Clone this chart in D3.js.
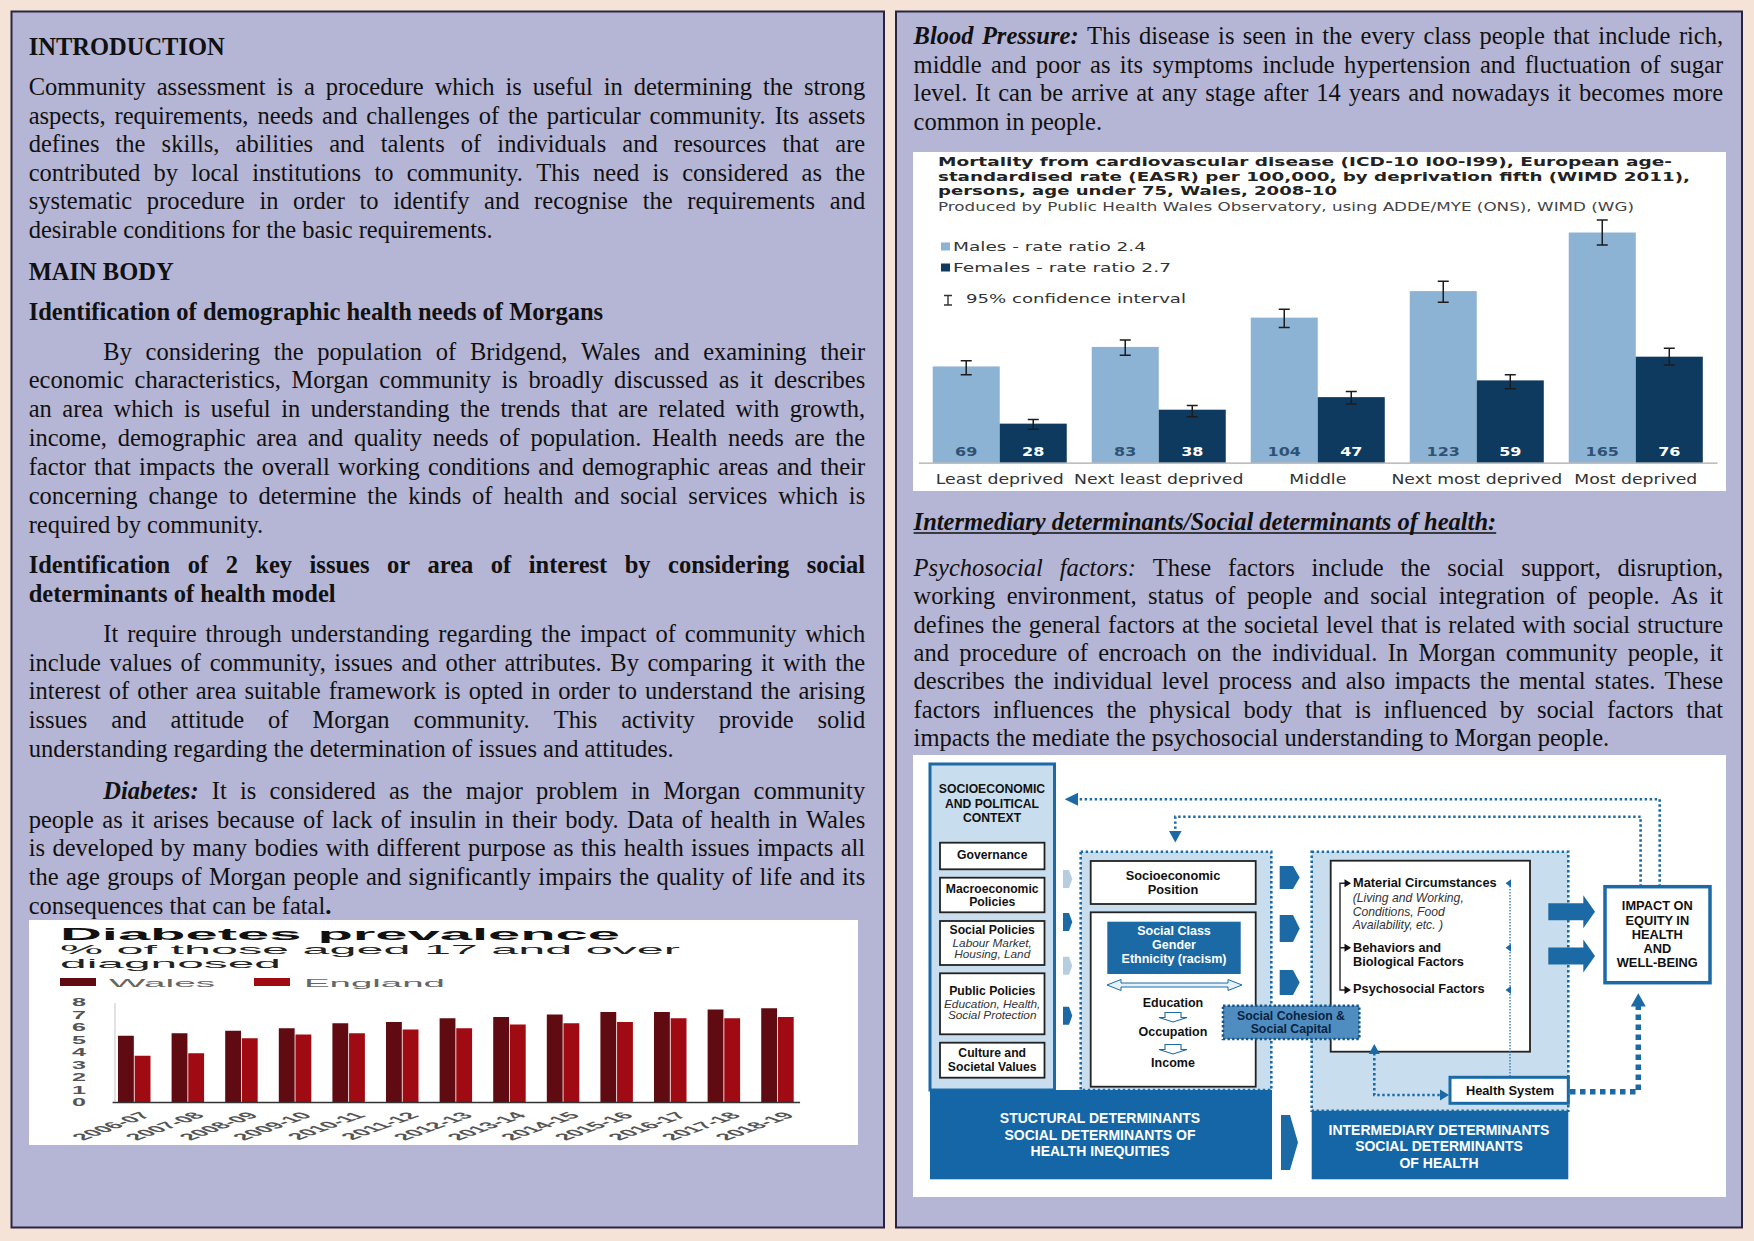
<!DOCTYPE html>
<html>
<head>
<meta charset="utf-8">
<script src="https://cdn.jsdelivr.net/npm/d3@7"></script>
<style>
  body { margin: 0; background: #f6e3d7; }
  svg { display: block; }
</style>
</head>
<body>
<script>
// page size
var W = 1754, H = 1241;

// ---- diabetes chart data ----
var years = ["2006-07", "2007-08", "2008-09", "2009-10", "2010-11", "2011-12", "2012-13",
             "2013-14", "2014-15", "2015-16", "2016-17", "2017-18", "2018-19"];
var walesPct   = [5.3, 5.5, 5.7, 5.9, 6.3, 6.4, 6.7, 6.8, 7.0, 7.2, 7.2, 7.4, 7.5];
var englandPct = [3.7, 3.9, 5.1, 5.4, 5.5, 5.8, 5.9, 6.2, 6.3, 6.4, 6.7, 6.7, 6.8];
var diabetesTicks = [0, 1, 2, 3, 4, 5, 6, 7, 8];
var diabetesSeries = ["Wales", "England"];

// ---- cardiovascular mortality data ----
var fifths = ["Least deprived", "Next least deprived", "Middle", "Next most deprived", "Most deprived"];
var maleRate   = [69, 83, 104, 123, 165];
var femaleRate = [28, 38, 47, 59, 76];
var maleLo   = [63, 77, 97, 115, 156];
var maleHi   = [73, 88, 110, 130, 174];
var femaleLo = [24, 33, 42, 53, 70];
var femaleHi = [31, 41, 51, 63, 82];
var sexes = ["Males", "Females"];

// ---- body text, one entry per printed line: [text or segments, justify, indent] ----
var introLines = [
  ["Community assessment is a procedure which is useful in determining the strong", 1],
  ["aspects, requirements, needs and challenges of the particular community. Its assets", 1],
  ["defines the skills, abilities and talents of individuals and resources that are", 1],
  ["contributed by local institutions to community. This need is considered as the", 1],
  ["systematic procedure in order to identify and recognise the requirements and", 1],
  ["desirable conditions for the basic requirements.", 0]
];
var demoLines = [
  ["By considering the population of Bridgend, Wales and examining their", 1, 1],
  ["economic characteristics, Morgan community is broadly discussed as it describes", 1],
  ["an area which is useful in understanding the trends that are related with growth,", 1],
  ["income, demographic area and quality needs of population. Health needs are the", 1],
  ["factor that impacts the overall working conditions and demographic areas and their", 1],
  ["concerning change to determine the kinds of health and social services which is", 1],
  ["required by community.", 0]
];
var keyHeadLines = [
  [[["b", "Identification of 2 key issues or area of interest by considering social"]], 1],
  [[["b", "determinants of health model"]], 0]
];
var keyLines = [
  ["It require through understanding regarding the impact of community which", 1, 1],
  ["include values of community, issues and other attributes. By comparing it with the", 1],
  ["interest of other area suitable framework is opted in order to understand the arising", 1],
  ["issues and attitude of Morgan community. This activity provide solid", 1],
  ["understanding regarding the determination of issues and attitudes.", 0]
];
var diabetesLines = [
  [[["bi", "Diabetes:"], ["", " It is considered as the major problem in Morgan community"]], 1, 1],
  ["people as it arises because of lack of insulin in their body. Data of health in Wales", 1],
  ["is developed by many bodies with different purpose as this health issues impacts all", 1],
  ["the age groups of Morgan people and significantly impairs the quality of life and its", 1],
  [[["", "consequences that can be fatal"], ["b", "."]], 0]
];
var bpLines = [
  [[["bi", "Blood Pressure:"], ["", " This disease is seen in the every class people that include rich,"]], 1],
  ["middle  and poor as its symptoms include hypertension and fluctuation of sugar", 1],
  ["level. It can be arrive at any stage after 14 years and nowadays it becomes more", 1],
  ["common in people.", 0]
];
var psychoLines = [
  [[["i", "Psychosocial factors:"], ["", " These factors include the social support, disruption,"]], 1],
  ["working environment, status of people and social integration of people. As it", 1],
  ["defines the general factors at the societal level that is related with social structure", 1],
  ["and procedure of encroach on the individual. In Morgan community people, it", 1],
  ["describes the individual level process and also impacts the mental states. These", 1],
  ["factors influences the physical body that is influenced by social factors that", 1],
  ["impacts the mediate the psychosocial understanding to Morgan people.", 0]
];

// ---- diagram texts ----
var contextTitle = ["SOCIOECONOMIC", "AND POLITICAL", "CONTEXT"];
var structuralTitle = ["STUCTURAL DETERMINANTS", "SOCIAL DETERMINANTS OF", "HEALTH INEQUITIES"];
var intermediaryTitle = ["INTERMEDIARY DETERMINANTS", "SOCIAL DETERMINANTS", "OF HEALTH"];
var impactTitle = ["IMPACT ON", "EQUITY IN", "HEALTH", "AND", "WELL-BEING"];

// create svg canvas
var svg = d3.select("body").append("svg")
    .attr("width", W)
    .attr("height", H);

svg.append("rect").attr("width", W).attr("height", H).attr("fill", "#f6e3d7");

// the two lavender panels
svg.append("rect")
    .attr("x", 11.5).attr("y", 11.5).attr("width", 872.5).attr("height", 1216)
    .attr("fill", "#b5b5d6").attr("stroke", "#2a2442").attr("stroke-width", 2);
svg.append("rect")
    .attr("x", 896).attr("y", 11.5).attr("width", 846).attr("height", 1216)
    .attr("fill", "#b5b5d6").attr("stroke", "#2a2442").attr("stroke-width", 2);

// ---------- body text ----------
var textG = svg.append("g")
    .attr("font-family", "'Liberation Serif', 'Times New Roman', serif")
    .attr("font-size", 24.5)
    .attr("fill", "#111");

function segStyle(k) {
  var s = "";
  if (k.indexOf("b") >= 0) s += "font-weight:bold;";
  if (k.indexOf("i") >= 0) s += "font-style:italic;";
  return s;
}

// one printed line, justified by placing each word
function textLine(segs, x, y, width, justify) {
  var t = textG.append("text").attr("y", y);
  if (!justify) {
    t.attr("x", x);
    segs.forEach(function(s) {
      t.append("tspan").attr("style", segStyle(s[0])).text(s[1]);
    });
    return t;
  }
  var words = [];
  segs.forEach(function(s) {
    s[1].split(/\s+/).filter(Boolean).forEach(function(w) { words.push([s[0], w]); });
  });
  var spans = words.map(function(w) {
    return t.append("tspan").attr("style", segStyle(w[0])).text(w[1]);
  });
  var widths = spans.map(function(sp) { return sp.node().getComputedTextLength(); });
  var gap = (width - d3.sum(widths)) / (words.length - 1);
  var cx = x;
  spans.forEach(function(sp, i) { sp.attr("x", cx); cx += widths[i] + gap; });
  return t;
}

function drawBlock(lines, x, width, y0, pitch) {
  var indent = 74.6;
  lines.forEach(function(ln, i) {
    var segs = typeof ln[0] === "string" ? [["", ln[0]]] : ln[0];
    var ind = ln[2] ? indent : 0;
    textLine(segs, x + ind, y0 + i * pitch, width - ind, ln[1]);
  });
}

var LX = 28.7, LW = 836.5, RX = 913.6, RW = 809.5, PITCH = 28.6;

textLine([["b", "INTRODUCTION"]], LX, 55, LW, 0);
drawBlock(introLines, LX, LW, 95, PITCH);
textLine([["b", "MAIN BODY"]], LX, 279.5, LW, 0);
textLine([["b", "Identification of demographic health needs of Morgans"]], LX, 320, LW, 0);
drawBlock(demoLines, LX, LW, 359.5, 28.85);
drawBlock(keyHeadLines, LX, LW, 573, 28.7);
drawBlock(keyLines, LX, LW, 642, 28.7);
drawBlock(diabetesLines, LX, LW, 799, 28.7);

drawBlock(bpLines, RX, RW, 44, 28.5);
var ul = textLine([["bi", "Intermediary determinants/Social determinants of health:"]], RX, 529.5, RW, 0);
textG.append("line")
    .attr("x1", RX).attr("x2", RX + ul.node().getComputedTextLength())
    .attr("y1", 533).attr("y2", 533)
    .attr("stroke", "#111").attr("stroke-width", 1.4);
drawBlock(psychoLines, RX, RW, 576, 28.3);

// ---------- diabetes prevalence chart ----------
var dg = svg.append("g").attr("font-family", "'Liberation Sans', Arial, sans-serif");
dg.append("rect").attr("x", 29).attr("y", 920).attr("width", 829).attr("height", 225).attr("fill", "#fff");

dg.append("text").attr("x", 60).attr("y", 939.5).attr("font-size", 16).attr("font-weight", "bold")
    .attr("fill", "#111").attr("textLength", 560).attr("lengthAdjust", "spacingAndGlyphs")
    .text("Diabetes prevalence");
dg.append("text").attr("x", 60).attr("y", 953.5).attr("font-size", 13.5).attr("fill", "#222")
    .attr("textLength", 620).attr("lengthAdjust", "spacingAndGlyphs")
    .text("% of those aged 17 and over");
dg.append("text").attr("x", 60).attr("y", 967.5).attr("font-size", 13.5).attr("fill", "#222")
    .attr("textLength", 221).attr("lengthAdjust", "spacingAndGlyphs")
    .text("diagnosed");

var dColor = d3.scaleOrdinal().domain(diabetesSeries).range(["#600b11", "#a00a12"]);

// legend
var dLegend = [{x: 60, tx: 109, len: 106}, {x: 254, tx: 304, len: 141}];
diabetesSeries.forEach(function(s, i) {
  dg.append("rect").attr("x", dLegend[i].x).attr("y", 978).attr("width", 36).attr("height", 8)
      .attr("fill", dColor(s));
  dg.append("text").attr("x", dLegend[i].tx).attr("y", 987).attr("font-size", 11.5)
      .attr("fill", "#666").attr("textLength", dLegend[i].len).attr("lengthAdjust", "spacingAndGlyphs")
      .text(s);
});

var dx0 = d3.scaleBand().domain(years).range([112.1, 799.6]).paddingInner(0.394).paddingOuter(0.11);
var dx1 = d3.scaleBand().domain(diabetesSeries).range([0, dx0.bandwidth()]).paddingInner(0.05);
var dy = d3.scaleLinear().domain([0, 8]).range([1102, 1002]);

// faint vertical line at left of plot
dg.append("line").attr("x1", 115).attr("x2", 115).attr("y1", 1003).attr("y2", 1101)
    .attr("stroke", "#e2e2e2").attr("stroke-width", 2);

var dRows = years.map(function(y, i) { return {year: y, vals: [walesPct[i], englandPct[i]]}; });
dg.selectAll(".dgrp").data(dRows).enter().append("g")
    .attr("transform", function(d) { return "translate(" + dx0(d.year) + ",0)"; })
  .selectAll("rect").data(function(d) { return d.vals.map(function(v, j) { return {s: diabetesSeries[j], v: v}; }); })
  .enter().append("rect")
    .attr("x", function(d) { return dx1(d.s); })
    .attr("y", function(d) { return dy(d.v); })
    .attr("width", dx1.bandwidth())
    .attr("height", function(d) { return dy(0) - dy(d.v); })
    .attr("fill", function(d) { return dColor(d.s); });

// y axis labels
var dyAxis = dg.append("g").attr("transform", "translate(79,0)")
    .call(d3.axisLeft(dy).tickValues(diabetesTicks).tickSize(0).tickPadding(0));
dyAxis.select(".domain").remove();
dyAxis.attr("font-family", null).attr("font-size", null).attr("text-anchor", "middle");
dyAxis.selectAll("text")
    .attr("x", 0).attr("dy", "0.36em").attr("font-size", 10.5).attr("font-weight", "bold")
    .attr("fill", "#555").attr("textLength", 14).attr("lengthAdjust", "spacingAndGlyphs");

// x axis with slanted (stretched) labels
var dxAxis = dg.append("g").attr("transform", "translate(0,1102)")
    .call(d3.axisBottom(dx0).tickSize(0).tickSizeOuter(0));
dxAxis.attr("font-family", null).attr("font-size", null);
dxAxis.select(".domain").attr("stroke", "#333").attr("stroke-width", 1.6);
dxAxis.selectAll("text")
    .attr("y", 0).attr("dy", 0).attr("text-anchor", "end")
    .attr("transform", "translate(18,14) scale(2.8,1) rotate(-45)")
    .attr("font-size", 9.5).attr("font-weight", "bold").attr("fill", "#555");

// ---------- cardiovascular mortality chart ----------
var mg = svg.append("g").attr("font-family", "'DejaVu Sans', Verdana, sans-serif");
mg.append("rect").attr("x", 913).attr("y", 152).attr("width", 813).attr("height", 339).attr("fill", "#fff");

var mTitle = [
  {t: "Mortality from cardiovascular disease (ICD-10 I00-I99), European age-", y: 166, len: 734, b: 1},
  {t: "standardised rate (EASR) per 100,000, by deprivation fifth (WIMD 2011),", y: 180.7, len: 752, b: 1},
  {t: "persons, age under 75, Wales, 2008-10", y: 195.2, len: 399, b: 1},
  {t: "Produced by Public Health Wales Observatory, using ADDE/MYE (ONS), WIMD (WG)", y: 210.5, len: 696, b: 0}
];
mTitle.forEach(function(d) {
  mg.append("text").attr("x", 938).attr("y", d.y).attr("font-size", 12.8)
      .attr("font-weight", d.b ? "bold" : "normal").attr("fill", d.b ? "#222" : "#444")
      .attr("textLength", d.len).attr("lengthAdjust", "spacingAndGlyphs").text(d.t);
});

var mColor = d3.scaleOrdinal().domain(sexes).range(["#8cb2d4", "#0d3a5e"]);

// legend
mg.append("rect").attr("x", 941).attr("y", 242.5).attr("width", 9).attr("height", 8).attr("fill", mColor("Males"));
mg.append("rect").attr("x", 941).attr("y", 263.5).attr("width", 9).attr("height", 8).attr("fill", mColor("Females"));
mg.append("text").attr("x", 953).attr("y", 251).attr("font-size", 13).attr("fill", "#333")
    .attr("textLength", 193).attr("lengthAdjust", "spacingAndGlyphs").text("Males - rate ratio 2.4");
mg.append("text").attr("x", 953).attr("y", 272).attr("font-size", 13).attr("fill", "#333")
    .attr("textLength", 218).attr("lengthAdjust", "spacingAndGlyphs").text("Females - rate ratio 2.7");
mg.append("path").attr("d", "M944,295.5H952M948,295.5V305M944,305H952")
    .attr("stroke", "#333").attr("stroke-width", 1.4).attr("fill", "none");
mg.append("text").attr("x", 966).attr("y", 303).attr("font-size", 13).attr("fill", "#333")
    .attr("textLength", 220).attr("lengthAdjust", "spacingAndGlyphs").text("95% confidence interval");

var mx0 = d3.scaleBand().domain(fifths).range([918.4, 1717.1]).paddingInner(0.157).paddingOuter(0.09);
var mx1 = d3.scaleBand().domain(sexes).range([0, mx0.bandwidth()]);
var my = d3.scaleLinear().domain([0, 180]).range([462.7, 211.6]);

var mRows = fifths.map(function(f, i) {
  return {fifth: f, bars: [
    {s: "Males", v: maleRate[i], lo: maleLo[i], hi: maleHi[i]},
    {s: "Females", v: femaleRate[i], lo: femaleLo[i], hi: femaleHi[i]}
  ]};
});

var mBars = mg.selectAll(".mgrp").data(mRows).enter().append("g")
    .attr("transform", function(d) { return "translate(" + mx0(d.fifth) + ",0)"; })
  .selectAll("g").data(function(d) { return d.bars; }).enter().append("g");

mBars.append("rect")
    .attr("x", function(d) { return mx1(d.s); })
    .attr("y", function(d) { return my(d.v); })
    .attr("width", mx1.bandwidth())
    .attr("height", function(d) { return my(0) - my(d.v); })
    .attr("fill", function(d) { return mColor(d.s); });

// confidence intervals
mBars.append("path")
    .attr("d", function(d) {
      var cx = mx1(d.s) + mx1.bandwidth() / 2;
      return "M" + (cx - 5.5) + "," + my(d.hi) + "H" + (cx + 5.5) +
             "M" + cx + "," + my(d.hi) + "V" + my(d.lo) +
             "M" + (cx - 5.5) + "," + my(d.lo) + "H" + (cx + 5.5);
    })
    .attr("stroke", "#1c1c1c").attr("stroke-width", 1.5).attr("fill", "none");

// value labels inside the bars
mBars.append("text")
    .attr("transform", function(d) {
      return "translate(" + (mx1(d.s) + mx1.bandwidth() / 2) + ",456) scale(1.28,1)";
    })
    .attr("text-anchor", "middle").attr("font-size", 12.5).attr("font-weight", "bold")
    .attr("fill", function(d) { return d.s === "Males" ? "#2f5273" : "#fff"; })
    .text(function(d) { return d.v; });

var mxAxis = mg.append("g").attr("transform", "translate(0," + my(0) + ")")
    .call(d3.axisBottom(mx0).tickSize(0).tickSizeOuter(0));
mxAxis.attr("font-family", null).attr("font-size", null);
mxAxis.select(".domain").attr("stroke", "#aaa").attr("stroke-width", 1.2);
mxAxis.selectAll("text")
    .attr("y", 0).attr("dy", 0)
    .attr("transform", "translate(0,21.5) scale(1.28,1)")
    .attr("font-size", 13.5).attr("fill", "#333");

// ---------- social determinants diagram ----------
var BLUE = "#1b6aa6", LIGHT = "#c8deee", DARKB = "#1566a6";
var sg = svg.append("g").attr("font-family", "'Liberation Sans', Arial, sans-serif").attr("font-weight", "bold");
sg.append("rect").attr("x", 913).attr("y", 755).attr("width", 813).attr("height", 442).attr("fill", "#fff");

function box(x, y, w, h, fill, stroke, sw, dash) {
  return sg.append("rect").attr("x", x).attr("y", y).attr("width", w).attr("height", h)
      .attr("fill", fill).attr("stroke", stroke || "none").attr("stroke-width", sw || 0)
      .attr("stroke-dasharray", dash || null);
}
function lines(arr, cx, ys, opt) {
  opt = opt || {};
  arr.forEach(function(t, i) {
    sg.append("text").attr("x", cx).attr("y", ys[i])
        .attr("text-anchor", opt.anchor || "middle")
        .attr("font-size", opt.size || 12.5)
        .attr("font-style", opt.italic ? "italic" : null)
        .attr("font-weight", opt.italic ? "normal" : null)
        .attr("fill", opt.fill || "#111")
        .text(t);
  });
}
function poly(pts, fill) {
  return sg.append("path").attr("d", "M" + pts.map(function(p) { return p.join(","); }).join("L") + "Z")
      .attr("fill", fill);
}
function dotted(d, w, dash) {
  return sg.append("path").attr("d", d).attr("fill", "none").attr("stroke", BLUE)
      .attr("stroke-width", w).attr("stroke-dasharray", dash);
}

// left column: socioeconomic and political context
box(930, 764, 124.5, 326, LIGHT, BLUE, 3);
lines(contextTitle, 992, [793, 807.8, 822.3], {size: 12.2});
var ctxBoxes = [
  {y: 842.7, h: 26.6, t: ["Governance"], ty: [859.3]},
  {y: 877.7, h: 34.6, t: ["Macroeconomic", "Policies"], ty: [893, 906]},
  {y: 921, h: 44, t: ["Social Policies"], ty: [934], it: ["Labour Market,", "Housing, Land"], ity: [946.5, 957.5]},
  {y: 973.3, h: 61, t: ["Public Policies"], ty: [995], it: ["Education, Health,", "Social Protection"], ity: [1007.5, 1019]},
  {y: 1042.7, h: 35, t: ["Culture and", "Societal Values"], ty: [1056.5, 1070.5]}
];
ctxBoxes.forEach(function(b) {
  box(940, b.y, 104.5, b.h, "#fff", "#222", 1.8);
  lines(b.t, 992.2, b.ty, {size: 12.2});
  if (b.it) lines(b.it, 992.2, b.ity, {size: 11.8, italic: 1, fill: "#333"});
});

// feedback loops at the top
dotted("M1659.7,886.7V799.3H1078", 2.6, "2.4,2.6");
poly([[1064.7, 799.3], [1078, 792.8], [1078, 805.8]], BLUE);
dotted("M1640.6,886.7V816.7H1175.3V832", 2.6, "2.4,2.6");
poly([[1175.3, 842.5], [1169, 831], [1181.6, 831]], BLUE);

// small arrows between context and structural boxes
[[870, "#b7cde0"], [913, BLUE], [956.7, "#b7cde0"], [1006.7, BLUE]].forEach(function(a) {
  poly([[1063, a[0]], [1069, a[0]], [1072.3, a[0] + 9], [1069, a[0] + 18], [1063, a[0] + 18]], a[1]);
});

// structural determinants block
box(1080.7, 851.7, 190.6, 238.3, LIGHT, BLUE, 2.6, "2.4,2.6");
box(1090.7, 861, 165, 43, "#fff", "#222", 1.8);
lines(["Socioeconomic", "Position"], 1173, [880, 893.5], {size: 12.8});
box(1090.7, 912.3, 165, 174.4, "#fff", "#222", 1.8);
box(1107.3, 921.7, 133.4, 52.3, BLUE);
lines(["Social Class", "Gender", "Ethnicity (racism)"], 1174, [934.5, 949, 962.7], {fill: "#fff"});
sg.append("path")
    .attr("d", "M1107,985L1121,979.5V983H1228V979.5L1242,985L1228,990.5V987H1121V990.5Z")
    .attr("fill", "#e6f1f9").attr("stroke", BLUE).attr("stroke-width", 1);
lines(["Education"], 1173, [1006.5]);
lines(["Occupation"], 1173, [1036]);
lines(["Income"], 1173, [1067]);
[1012.5, 1044.5].forEach(function(y) {
  sg.append("path")
      .attr("d", "M1165," + y + "H1181V" + (y + 5) + "H1187L1173," + (y + 9.5) + "L1159," + (y + 5) + "H1165Z")
      .attr("fill", "#fff").attr("stroke", BLUE).attr("stroke-width", 1.1);
});

// arrows from structural to intermediary
[[866, 23], [915, 27], [970, 25]].forEach(function(a) {
  poly([[1279.7, a[0]], [1293, a[0]], [1299.7, a[0] + a[1] / 2], [1293, a[0] + a[1]], [1279.7, a[0] + a[1]]], BLUE);
});

// intermediary determinants block
box(1311.7, 851.7, 256.6, 259, LIGHT, BLUE, 2.6, "2.4,2.6");
box(1330.7, 860.7, 199.3, 191, "#fff", "#222", 1.8);
sg.append("path").attr("d", "M1345,883.3H1340V990H1345M1340,947.7H1345")
    .attr("fill", "none").attr("stroke", "#222").attr("stroke-width", 1.4);
[883.3, 947.7, 990].forEach(function(y) {
  poly([[1351, y], [1344.5, y - 4], [1344.5, y + 4]], "#111");
  poly([[1505.5, y], [1511, y - 4], [1511, y + 4]], BLUE);
});
dotted("M1510,883V1077", 1.2, "1.5,1.5");
lines(["Material Circumstances"], 1353, [887], {anchor: "start", size: 12.8});
lines(["(Living and Working,", "Conditions, Food", "Availability, etc. )"], 1352.7, [901.7, 916, 929.3],
      {anchor: "start", size: 12.2, italic: 1, fill: "#333"});
lines(["Behaviors and", "Biological Factors"], 1353, [951.5, 966], {anchor: "start", size: 12.8});
lines(["Psychosocial Factors"], 1353, [993.3], {anchor: "start", size: 12.8});

// social cohesion box
box(1223, 1005.7, 136.3, 33.3, "#4f8dc0", "#17558a", 2.6, "2.4,2.2");
lines(["Social Cohesion &", "Social Capital"], 1291, [1020, 1032.8], {fill: "#0a2340", size: 12.3});

// health system and its links
dotted("M1374.3,1053V1095H1441", 2.6, "2.4,2.6");
poly([[1374.3, 1044], [1368.8, 1054], [1379.8, 1054]], BLUE);
poly([[1449, 1095], [1440, 1089.5], [1440, 1100.5]], BLUE);
box(1450, 1077.3, 118.3, 26, "#fff", BLUE, 3);
lines(["Health System"], 1510, [1094.8], {size: 12.8});
dotted("M1570,1091.7H1638.3V1006", 5.5, "5.5,4.5");
poly([[1638.3, 993.3], [1630.8, 1006.5], [1645.8, 1006.5]], BLUE);

// impact box and big arrows
box(1605, 886.7, 105, 96, "#fff", BLUE, 3.5);
lines(impactTitle, 1657.3, [910.3, 924.5, 938.8, 953, 967], {size: 12.8});
[911.7, 956].forEach(function(c) {
  poly([[1548.3, c - 8.5], [1583.3, c - 8.5], [1583.3, c - 16.5], [1595, c], [1583.3, c + 16.5], [1583.3, c + 8.5], [1548.3, c + 8.5]], BLUE);
});

// bottom labels
box(930, 1090, 342, 89.3, DARKB);
lines(structuralTitle, 1100, [1123, 1139.5, 1155.5], {fill: "#fff", size: 14});
box(1311.7, 1110.7, 256.6, 68.6, DARKB);
lines(intermediaryTitle, 1439, [1134.8, 1150.8, 1167.5], {fill: "#fff", size: 14});
poly([[1281, 1115], [1290, 1115], [1298, 1142.5], [1290, 1170], [1281, 1170]], BLUE);
</script>
</body>
</html>
